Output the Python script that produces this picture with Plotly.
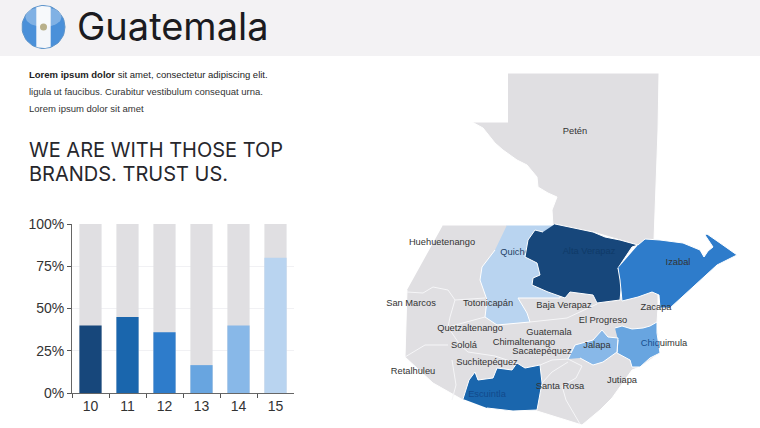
import numpy as np
import plotly.graph_objects as go

#############################################
# Chart data
#############################################

years = ['10', '11', '12', '13', '14', '15']
shares = [40, 45, 36, 16.5, 40, 80]
full_bar = [100, 100, 100, 100, 100, 100]
bar_colors = ['#17477B', '#1A66AD', '#2E7CCB', '#68A5E0', '#88B8E8', '#B9D4F0']
y_ticks = [0, 25, 50, 75, 100]
y_tick_labels = ['0%', '25%', '50%', '75%', '100%']

GRAY = '#E0DFE2'

#############################################
# Map outlines, traced in picture pixels
#############################################

peten = [(508, 73), (659, 73), (658, 130), (654, 240), (637, 245), (620, 240), (593, 232), (553, 226),
         (552, 210), (557, 197), (548, 193), (538, 187), (537, 177), (527, 165), (517, 160), (510, 155),
         (503, 150), (495, 143), (488, 134), (483, 128), (472, 122), (508, 122)]
south = [(443, 225), (560, 225), (640, 290), (658, 293), (658, 307), (657, 323), (660, 353), (640, 367),
         (632, 370), (612, 398), (600, 410), (582, 425), (537, 411), (463, 400), (433, 383),
         (405, 357), (407, 290)]
quiche = [(507, 225), (555, 225), (560, 298), (518, 298), (527, 313), (530, 322), (497, 325), (485, 317),
          (487, 300), (480, 280), (482, 267), (495, 250)]
alta_verapaz = [(555, 224), (575, 228), (593, 232), (605, 237), (620, 240), (638, 245), (632, 247), (618, 268),
                (622, 280), (620, 300), (597, 303), (593, 295), (570, 292), (565, 298), (548, 292), (532, 285),
                (533, 278), (540, 275), (537, 263), (525, 257), (528, 240), (535, 230), (543, 232)]
izabal = [(638, 245), (645, 239), (660, 240), (683, 243), (700, 250), (704, 257), (708, 251), (713, 247),
          (705, 235), (707, 234), (720, 243), (737, 255), (717, 265), (697, 283), (670, 308), (660, 308),
          (659, 295), (652, 292), (638, 297), (622, 301), (620, 280), (618, 268)]
chiquimula = [(615, 328), (622, 326), (632, 329), (643, 328), (650, 326), (657, 322), (657, 333), (660, 353),
              (650, 358), (640, 367), (632, 367), (630, 360), (617, 353), (618, 340)]
jalapa = [(568, 359), (575, 345), (593, 340), (602, 330), (608, 337), (618, 338), (617, 352),
          (603, 362), (593, 365), (580, 358)]
escuintla = [(463, 399), (469, 380), (475, 372), (478, 380), (493, 378), (497, 368), (512, 370),
             (517, 363), (525, 368), (540, 365), (542, 383), (537, 410), (513, 411), (487, 408)]

borders = [
    [(407, 292), (423, 293), (433, 287), (448, 290), (455, 300), (450, 317), (448, 327), (460, 345), (468, 352)],
    [(455, 300), (485, 298)],
    [(405, 357), (425, 345), (448, 345)],
    [(448, 327), (485, 317)],
    [(452, 360), (456, 385), (452, 400)],
    [(468, 352), (495, 356), (513, 362)],
    [(530, 322), (567, 318), (597, 304)],
    [(540, 365), (552, 360), (568, 359)],
    [(568, 359), (582, 366), (576, 378), (562, 386), (566, 400), (580, 424)],
    [(542, 383), (552, 372), (568, 362)],
]

map_parts = [(peten, GRAY), (south, GRAY)]
color_parts = [(alta_verapaz, '#17477B'), (izabal, '#2E7CCB'), (chiquimula, '#68A5E0'),
               (jalapa, '#88B8E8'), (escuintla, '#1A66AD')]

label_names = ['Petén', 'Huehuetenango', 'San Marcos', 'Totonicapán', 'Baja Verapaz', 'Quetzaltenango',
               'Guatemala', 'Chimaltenango', 'Sololá', 'Sacatepéquez', 'Suchitepéquez', 'Retalhuleu',
               'Santa Rosa', 'Jutiapa', 'El Progreso', 'Zacapa', 'Izabal', 'Jalapa',
               "<span style='color:#17508F'>Chiq</span>uimula", "<span style='color:#124A8C'>Escuintla</span>",
               "<span style='color:#0F3A68'>Alta Verapaz</span>"]
label_x = [575, 442, 411, 488, 564, 470, 549, 524, 464, 542, 487, 413, 560, 622, 603, 656, 678, 597, 664, 487, 589]
label_y = [132, 243, 304, 304, 306, 329, 333, 343, 346, 352, 363, 372, 387, 381, 321, 308, 263, 346, 344, 395, 252]


def outline(points, color, name):
    xs, ys = zip(*points)
    return go.Scatter(x=xs, y=ys, xaxis='x2', yaxis='y2', mode='lines', fill='toself', fillcolor=color,
                      line=dict(color='#FFFFFF', width=1), hoverinfo='skip', name=name)


#############################################
# Plot
#############################################

fig = go.Figure()

# Map goes under the bars, Quiche label is partly hidden by Alta Verapaz
for points, color in map_parts:
    fig.add_trace(outline(points, color, 'base'))
for line in borders:
    xs, ys = zip(*line)
    fig.add_trace(go.Scatter(x=xs, y=ys, xaxis='x2', yaxis='y2', mode='lines',
                             line=dict(color='#F6F6F8', width=1), hoverinfo='skip'))
fig.add_trace(outline(quiche, '#B9D4F0', 'Quiché'))
fig.add_trace(go.Scatter(x=[515], y=[253], xaxis='x2', yaxis='y2', mode='text', text=['Quiché'],
                         textfont=dict(family='Liberation Sans', size=9.3, color='#1F3F66'), hoverinfo='skip'))
for points, color in color_parts:
    fig.add_trace(outline(points, color, 'region'))
fig.add_trace(go.Scatter(x=label_x, y=label_y, xaxis='x2', yaxis='y2', mode='text', text=label_names,
                         textfont=dict(family='Liberation Sans', size=9.3, color='#333333'), hoverinfo='skip'))

fig.add_trace(go.Bar(x=years, y=full_bar, marker=dict(color=GRAY, line_width=0), width=0.6, hoverinfo='skip'))
fig.add_trace(go.Bar(x=years, y=shares, marker=dict(color=bar_colors, line_width=0), width=0.6))

# Flag badge
angle = np.linspace(0, 2 * np.pi, 60)
flag_x = 43.5 + 21.5 * np.cos(angle)
flag_y = 27 + 21.5 * np.sin(angle)
fig.add_trace(go.Scatter(x=flag_x, y=flag_y, xaxis='x2', yaxis='y2', mode='lines', fill='toself',
                         fillcolor='#4A90D9', line=dict(color='#5C93C9', width=1), hoverinfo='skip'))
stripe = np.linspace(-0.8, 0.8, 12)
stripe_top = 27 - np.sqrt(21 ** 2 - (stripe * 9) ** 2)
stripe_bottom = 27 + np.sqrt(21 ** 2 - (stripe * 9) ** 2)
fig.add_trace(go.Scatter(x=list(43.5 + stripe * 9) + list(43.5 - stripe * 9),
                         y=list(stripe_top) + list(stripe_bottom), xaxis='x2', yaxis='y2', mode='lines',
                         fill='toself', fillcolor='#F4F6FA', line_width=0, hoverinfo='skip'))
# gloss on the upper half of the badge
fig.add_trace(go.Scatter(x=43.5 + 18 * np.cos(angle), y=17 + 10 * np.sin(angle), xaxis='x2', yaxis='y2',
                         mode='lines', fill='toself', fillcolor='rgba(255,255,255,0.3)', line_width=0,
                         hoverinfo='skip'))
fig.add_trace(go.Scatter(x=[43.5], y=[27], xaxis='x2', yaxis='y2', mode='markers',
                         marker=dict(size=7, color='#B8B08A', symbol='circle'), hoverinfo='skip'))

fig.update_layout(
    width=760, height=428, margin=dict(l=0, r=0, t=0, b=0),
    paper_bgcolor='#FFFFFF', plot_bgcolor='rgba(0,0,0,0)', showlegend=False, barmode='overlay', bargap=0.4,
    xaxis=dict(domain=[72 / 760, 294 / 760], anchor='y', type='category', tickson='boundaries', ticks='outside',
               ticklen=4, tickcolor='#555555', linecolor='#666666', showline=True, showgrid=False, automargin=False,
               tickfont=dict(family='Liberation Sans', size=14, color='#333333')),
    yaxis=dict(domain=[(428 - 393) / 428, (428 - 224) / 428], anchor='x', range=[0, 100], tickvals=y_ticks,
               ticktext=y_tick_labels, ticks='outside', ticklen=4, tickcolor='#555555', linecolor='#666666',
               showline=True, gridcolor='#F1F1F4', zeroline=False, automargin=False,
               tickfont=dict(family='Liberation Sans', size=14, color='#333333')),
    xaxis2=dict(domain=[0, 1], range=[0, 760], anchor='y2', visible=False, automargin=False),
    yaxis2=dict(domain=[0, 1], range=[428, 0], anchor='x2', visible=False, automargin=False),
    shapes=[dict(type='rect', xref='x2', yref='y2', x0=0, x1=760, y0=0, y1=56, fillcolor='#F3F2F4',
                 line_width=0, layer='below')],
)

fig.add_annotation(x=75, y=26, xref='x2', yref='y2', text='Guatemala', showarrow=False, xanchor='left',
                   font=dict(family='Inter', size=38, color='#1B1B20'))
fig.add_annotation(x=27, y=74, xref='x2', yref='y2', showarrow=False, xanchor='left',
                   text='<b>Lorem ipsum dolor</b> sit amet, consectetur adipiscing elit.',
                   font=dict(family='Liberation Sans', size=9.5, color='#222222'))
fig.add_annotation(x=27, y=91, xref='x2', yref='y2', showarrow=False, xanchor='left',
                   text='ligula ut faucibus. Curabitur vestibulum consequat urna.',
                   font=dict(family='Liberation Sans', size=9.5, color='#333333'))
fig.add_annotation(x=27, y=108, xref='x2', yref='y2', showarrow=False, xanchor='left',
                   text='Lorem ipsum dolor sit amet',
                   font=dict(family='Liberation Sans', size=9.5, color='#333333'))
fig.add_annotation(x=27, y=150, xref='x2', yref='y2', showarrow=False, xanchor='left',
                   text='WE ARE WITH THOSE TOP',
                   font=dict(family='Inter', size=20, color='#27272C'))
fig.add_annotation(x=27, y=173.5, xref='x2', yref='y2', showarrow=False, xanchor='left',
                   text='BRANDS. TRUST US.',
                   font=dict(family='Inter', size=20, color='#27272C'))

fig.write_html("out.html", config={'displayModeBar': False}, post_script="document.body.style.margin='0';")
